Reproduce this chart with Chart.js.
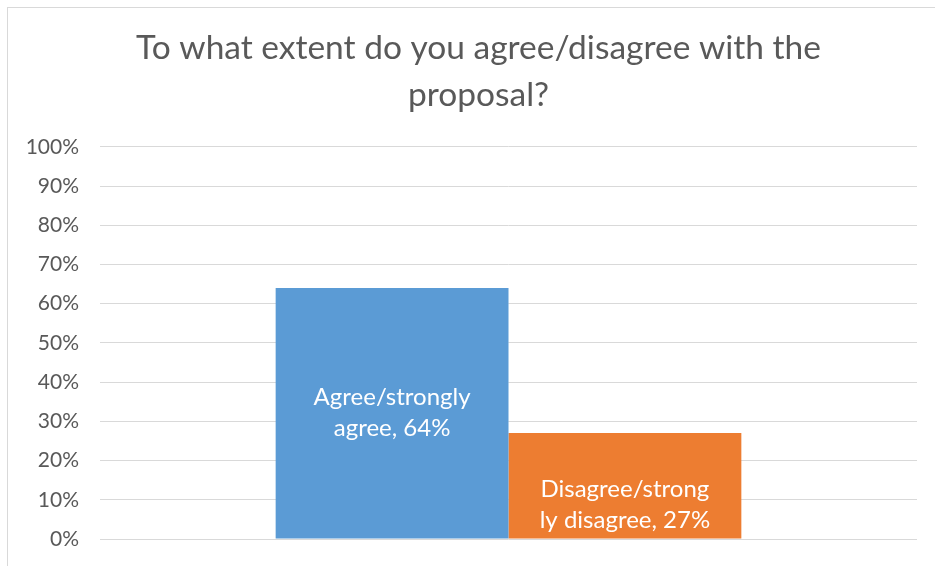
<!DOCTYPE html>
<html>
<head>
<meta charset="utf-8">
<script src="https://cdn.jsdelivr.net/npm/chart.js@4"></script>
<style>
  html, body { margin: 0; padding: 0; background: #fff; }
  #wrap { width: 935px; height: 566px; }
</style>
</head>
<body>
<div id="wrap"><canvas id="proposalChart" width="935" height="566"></canvas></div>
<script>
const categories = ['Agree/strongly agree', 'Disagree/strongly disagree'];
const values = [64, 27];
const barLabels = [['Agree/strongly', 'agree, 64%'], ['Disagree/strong', 'ly disagree, 27%']];
const colors = ['#5B9BD5', '#ED7D31'];
const titleLines = ['To what extent do you agree/disagree with the', 'proposal?'];

const FONT = 'Lato, "Open Sans", sans-serif';

// light frame round the chart, like the Excel chart area
const framePlugin = {
    id: 'frame',
    afterLayout(chart) {
        // Excel centres the title a bit right of the canvas middle
        if (chart.titleBlock) chart.titleBlock.left += 20;
    },
    beforeDraw(chart) {
        const ctx = chart.ctx;
        ctx.save();
        ctx.fillStyle = '#fff';
        ctx.fillRect(0, 0, chart.width, chart.height);
        ctx.strokeStyle = '#d9d9d9';
        ctx.lineWidth = 1;
        ctx.strokeRect(7.5, 7.5, chart.width + 10, chart.height + 10);
        ctx.restore();
    }
};

// white labels inside the bars
const barLabelPlugin = {
    id: 'barLabels',
    afterDatasetsDraw(chart) {
        const ctx = chart.ctx;
        ctx.save();
        ctx.fillStyle = '#fff';
        ctx.font = '24px ' + FONT;
        ctx.textAlign = 'center';
        ctx.textBaseline = 'middle';
        chart.data.datasets.forEach((ds, i) => {
            const bar = chart.getDatasetMeta(i).data[0];
            const lines = barLabels[i];
            let cy = (bar.y + bar.base) / 2;
            // the short bar's label sits lower, as in the original
            if (bar.base - bar.y < 150) cy = bar.base - 34;
            lines.forEach((t, k) => {
                ctx.fillText(t, bar.x, cy + (k - (lines.length - 1) / 2) * 31);
            });
        });
        ctx.restore();
    }
};

new Chart('proposalChart', {
    type: 'bar',
    data: {
        labels: [''],
        datasets: categories.map((c, i) => ({
            label: c,
            data: [values[i]],
            backgroundColor: colors[i],
            borderWidth: 0
        }))
    },
    options: {
        responsive: false,
        animation: false,
        layout: { padding: { left: 20, right: 18, top: 0, bottom: 27 } },
        datasets: { bar: { categoryPercentage: 0.57, barPercentage: 1.0 } },
        plugins: {
            legend: { display: false },
            tooltip: { enabled: false },
            title: {
                display: true,
                text: titleLines,
                color: '#595959',
                font: { family: FONT, size: 33.5, weight: 'normal', lineHeight: 1.4 },
                padding: { top: 25, bottom: 28 }
            }
        },
        scales: {
            x: { display: false },
            y: {
                min: 0,
                max: 100,
                ticks: {
                    stepSize: 10,
                    color: '#595959',
                    padding: 21,
                    font: { family: FONT, size: 21, lineHeight: 0.5 },
                    callback: v => v + '%'
                },
                grid: { color: '#d9d9d9', lineWidth: 1, drawTicks: false },
                border: { display: false },
                afterFit(scale) { scale.width = 80; }
            }
        }
    },
    plugins: [framePlugin, barLabelPlugin]
});
</script>
</body>
</html>
